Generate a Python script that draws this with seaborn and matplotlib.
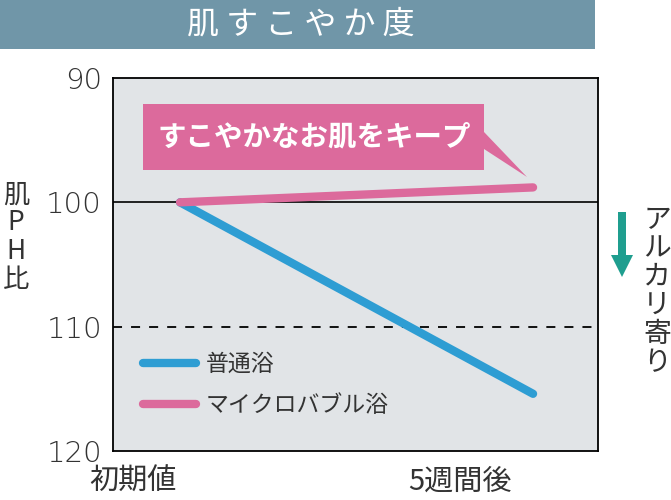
import numpy as np
import pandas as pd
import matplotlib
matplotlib.use('Agg')
import matplotlib.pyplot as plt
import seaborn as sns
from matplotlib.patches import Rectangle, Polygon

# data
periods = ['初期値', '5週間後']
normal_bath = [100.0, 115.4]
micro_bubble = [100.0, 98.8]
series_names = ['普通浴', 'マイクロバブル浴']
yticks = [90, 100, 110, 120]

sns.set_theme(style='white')
plt.rcParams['font.family'] = ['Noto Sans CJK JP', 'DejaVu Sans']

text_col = '#333333'
blue = '#2e9dd3'
pink = '#dc6a9c'

df = pd.DataFrame({
    'x': [0, 1, 0, 1],
    'ph': normal_bath + micro_bubble,
    'series': [series_names[0]] * 2 + [series_names[1]] * 2,
})

fig = plt.figure(figsize=(6.71, 5.0), dpi=100)
ax = fig.add_axes([113/671, 1 - 451/500, 485/671, 373/500])
ax.set_facecolor('#e1e4e7')

# reference lines
ax.axhline(100, color='black', lw=1.2, zorder=1)
ax.axhline(110, color='black', lw=1.3, ls=(0, (5, 5)), zorder=1)

sns.lineplot(data=df, x='x', y='ph', hue='series', hue_order=series_names,
             palette=[blue, pink], linewidth=6, ax=ax, legend=True,
             solid_capstyle='round', zorder=3)

ax.set_xlim(-0.19, 1.184)
ax.set_ylim(120, 90)
ax.set_yticks(yticks)
ax.set_yticklabels([str(v) for v in yticks], fontsize=21, color=text_col,
                   family='DejaVu Sans', fontweight='light')
ax.set_xticks([-0.133, 0.793])
ax.set_xticklabels(periods, fontsize=21, color=text_col)
ax.tick_params(axis='x', length=0, pad=11)
ax.tick_params(axis='y', length=0, pad=8)
ax.set_xlabel('')
ax.set_ylabel('')
for s in ax.spines.values():
    s.set_color('black')
    s.set_linewidth(1.3)

leg = ax.legend(loc='center left', bbox_to_anchor=(0.062, 0.177), frameon=False,
                fontsize=16.5, handlelength=2.3, handletextpad=0.42,
                labelspacing=0.8, borderpad=0, borderaxespad=0)
for h in leg.get_lines():
    h.set_linewidth(6)
    h.set_solid_capstyle('round')
for t in leg.get_texts():
    t.set_color(text_col)

# callout box
ax.add_patch(Rectangle((30/485, (451-170)/373), 341/485, 66/373,
                       transform=ax.transAxes, facecolor=pink, edgecolor='none', zorder=4))
ax.add_patch(Polygon([(371/485, (451-132)/373), (371/485, (451-149)/373),
                      (414/485, (451-177)/373)],
                     closed=True, transform=ax.transAxes, facecolor=pink,
                     edgecolor='none', zorder=4))
ax.text((314 - 113)/485, (451-137)/373, 'すこやかなお肌をキープ',
        transform=ax.transAxes, ha='center', va='center', color='white',
        fontsize=20.5, fontweight='bold', zorder=5)

# title bar
fig.patches.append(Rectangle((0, 1 - 49/500), 595/671, 49/500, transform=fig.transFigure,
                             facecolor='#7096a8', edgecolor='none', zorder=0))
fig.text(301/671, 1 - 25/500, '肌 す こ や か 度', ha='center', va='center',
         color='white', fontsize=23)

# y axis label, stacked
fig.text(16/671, 1 - 237/500, '肌\nP\nH\n比', ha='center', va='center',
         color=text_col, fontsize=19, linespacing=1.05)

# alkaline arrow + label
arrow_pts = [(618, 212), (626, 212), (626, 255), (633, 255), (622, 277),
             (611, 255), (618, 255)]
fig.patches.append(Polygon([(x/671, 1 - y/500) for x, y in arrow_pts], closed=True,
                           transform=fig.transFigure, facecolor='#1f9e8f',
                           edgecolor='none'))
fig.text(657/671, 1 - 291/500, 'ア\nル\nカ\nリ\n寄\nり', ha='center', va='center',
         color=text_col, fontsize=20, linespacing=0.93)

fig.savefig('out.png', dpi=100)
